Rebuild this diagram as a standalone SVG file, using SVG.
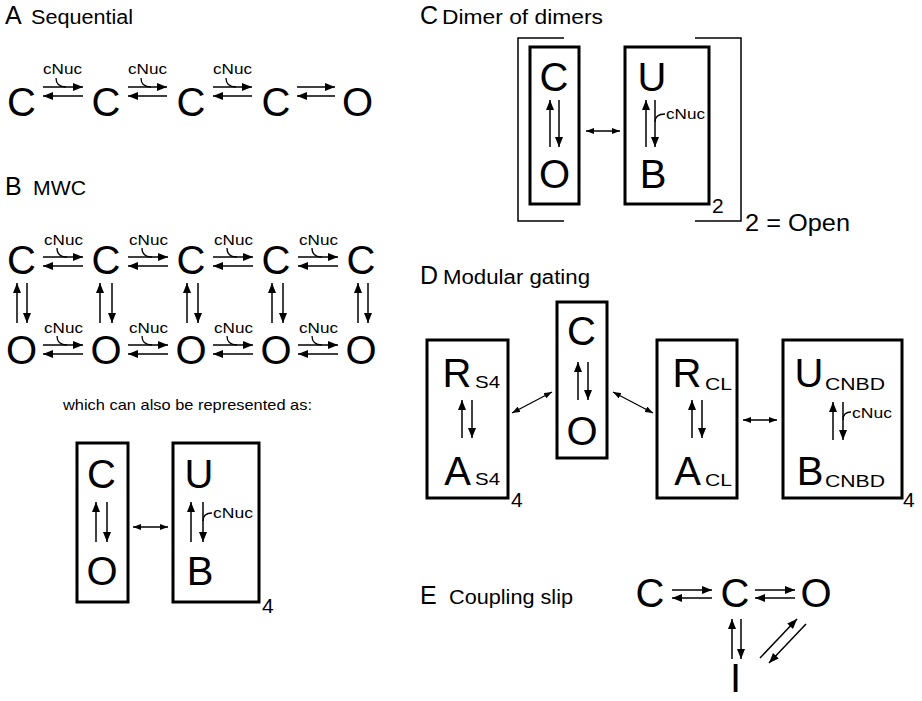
<svg xmlns="http://www.w3.org/2000/svg" width="922" height="701" viewBox="0 0 922 701">
<defs>
<style>
.t{font-family:"Liberation Sans",Arial,Helvetica,sans-serif;fill:#000}
.big{font-size:40px;text-anchor:middle}
.ttl{font-size:25px}
.lbl{font-size:20px}
.nuc{font-size:15px}
.sub{font-size:17px}
.idx{font-size:21px}
.ar{stroke:#000;stroke-width:1.5;fill:none;marker-end:url(#h)}
.da{stroke:#000;stroke-width:1.3;fill:none;marker-start:url(#s);marker-end:url(#s)}
.hk{stroke:#000;stroke-width:1.3;fill:none}
.box{fill:none;stroke:#000;stroke-width:3}
.br{fill:none;stroke:#000;stroke-width:1.5}
</style>
<marker id="h" viewBox="0 0 10 8" refX="10" refY="4" markerWidth="10" markerHeight="8" markerUnits="userSpaceOnUse" orient="auto"><path d="M0,0L10,4L0,8z"/></marker>
<marker id="s" viewBox="0 0 8 6" refX="8" refY="3" markerWidth="8" markerHeight="6" markerUnits="userSpaceOnUse" orient="auto-start-reverse"><path d="M0,0L8,3L0,6z"/></marker>
</defs>
<rect width="922" height="701" fill="#fff"/>

<!-- Section titles -->
<g id="titles" class="t">
<text x="5" y="24" class="ttl">A</text><text x="31" y="24" class="lbl" textLength="102" lengthAdjust="spacingAndGlyphs">Sequential</text>
<text x="5" y="195" class="ttl">B</text><text x="33" y="195" class="lbl" textLength="53" lengthAdjust="spacingAndGlyphs">MWC</text>
<text x="63" y="410" style="font-size:15px" textLength="249" lengthAdjust="spacingAndGlyphs">which can also be represented as:</text>
<text x="420" y="24" class="ttl">C</text><text x="442" y="24" class="lbl" textLength="161" lengthAdjust="spacingAndGlyphs">Dimer of dimers</text>
<text x="420" y="284" class="ttl">D</text><text x="443" y="284" class="lbl" textLength="147" lengthAdjust="spacingAndGlyphs">Modular gating</text>
<text x="420" y="604" class="ttl">E</text><text x="449" y="604" class="lbl" textLength="124" lengthAdjust="spacingAndGlyphs">Coupling slip</text>
</g>

<!-- A: Sequential nodes -->
<g id="A-C1" class="t"><text x="21.5" y="116" class="big">C</text></g>
<g id="A-C2" class="t"><text x="106" y="116" class="big">C</text></g>
<g id="A-C3" class="t"><text x="191" y="116" class="big">C</text></g>
<g id="A-C4" class="t"><text x="276" y="116" class="big">C</text></g>
<g id="A-O" class="t"><text x="357.5" y="116" class="big">O</text></g>

<!-- B: MWC nodes -->
<g id="B-C1" class="t"><text x="21.5" y="274" class="big">C</text></g>
<g id="B-C2" class="t"><text x="106" y="274" class="big">C</text></g>
<g id="B-C3" class="t"><text x="191" y="274" class="big">C</text></g>
<g id="B-C4" class="t"><text x="276" y="274" class="big">C</text></g>
<g id="B-C5" class="t"><text x="361" y="274" class="big">C</text></g>
<g id="B-O1" class="t"><text x="21.5" y="364" class="big">O</text></g>
<g id="B-O2" class="t"><text x="106" y="364" class="big">O</text></g>
<g id="B-O3" class="t"><text x="191" y="364" class="big">O</text></g>
<g id="B-O4" class="t"><text x="276" y="364" class="big">O</text></g>
<g id="B-O5" class="t"><text x="361" y="364" class="big">O</text></g>

<g id="B-boxCO" class="t">
<rect class="box" x="77" y="443" width="51" height="159"/>
<text x="101.5" y="488" class="big">C</text>
<text x="102" y="585" class="big">O</text>
</g>
<g id="B-boxUB" class="t">
<rect class="box" x="173" y="443" width="86" height="159"/>
<text x="199" y="488" class="big">U</text>
<text x="200" y="585" class="big">B</text>
<text x="262" y="613" class="idx">4</text>
</g>

<!-- C: Dimer of dimers -->
<g id="C-bracket" class="t">
<path class="br" d="M564,38H518V221H564"/>
<path class="br" d="M695,38H741V221H695"/>
<text x="745" y="231" style="font-size:23px" textLength="105" lengthAdjust="spacingAndGlyphs">2 = Open</text>
</g>
<g id="C-boxCO" class="t">
<rect class="box" x="530" y="47" width="49" height="157"/>
<text x="554" y="91" class="big">C</text>
<text x="554.5" y="188" class="big">O</text>
</g>
<g id="C-boxUB" class="t">
<rect class="box" x="625" y="47" width="84" height="157"/>
<text x="652" y="91" class="big">U</text>
<text x="653" y="188" class="big">B</text>
<text x="712" y="213" class="idx">2</text>
</g>

<!-- D: Modular gating -->
<g id="D-boxRA-S4" class="t">
<rect class="box" x="427" y="340" width="81" height="158"/>
<text x="457" y="387" class="big">R</text>
<text x="475" y="388" class="sub" textLength="25" lengthAdjust="spacingAndGlyphs">S4</text>
<text x="457.5" y="485" class="big">A</text>
<text x="475" y="485" class="sub" textLength="25" lengthAdjust="spacingAndGlyphs">S4</text>
<text x="511" y="507" class="idx">4</text>
</g>
<g id="D-boxCO" class="t">
<rect class="box" x="557" y="302" width="50" height="156"/>
<text x="581.5" y="345" class="big">C</text>
<text x="582" y="445" class="big">O</text>
</g>
<g id="D-boxRA-CL" class="t">
<rect class="box" x="657" y="340" width="80" height="158"/>
<text x="687" y="387" class="big">R</text>
<text x="705" y="390" class="sub" textLength="27" lengthAdjust="spacingAndGlyphs">CL</text>
<text x="687.5" y="485" class="big">A</text>
<text x="705" y="486" class="sub" textLength="27" lengthAdjust="spacingAndGlyphs">CL</text>
</g>
<g id="D-boxUB-CNBD" class="t">
<rect class="box" x="783" y="340" width="119" height="158"/>
<text x="809" y="387" class="big">U</text>
<text x="825" y="390" class="sub" textLength="60" lengthAdjust="spacingAndGlyphs">CNBD</text>
<text x="810" y="485" class="big">B</text>
<text x="825" y="487" class="sub" textLength="60" lengthAdjust="spacingAndGlyphs">CNBD</text>
<text x="903" y="507" class="idx">4</text>
</g>

<!-- E: Coupling slip -->
<g id="E-C1" class="t"><text x="650" y="607" class="big">C</text></g>
<g id="E-C2" class="t"><text x="735" y="607" class="big">C</text></g>
<g id="E-O" class="t"><text x="816" y="607" class="big">O</text></g>
<g id="E-I" class="t"><text x="735.5" y="692" class="big">I</text></g>

<!-- Connectors -->
<g id="connectors">
<!-- A row -->
<path class="ar" d="M43,87H83"/><path class="ar" d="M83,96H43"/>
<path class="ar" d="M128,87H167"/><path class="ar" d="M167,96H128"/>
<path class="ar" d="M213,87H252"/><path class="ar" d="M252,96H213"/>
<path class="ar" d="M297,87H335"/><path class="ar" d="M335,96H297"/>
<path class="hk" d="M56,78Q56,87 66,87"/>
<path class="hk" d="M141,78Q141,87 151,87"/>
<path class="hk" d="M226,78Q226,87 236,87"/>
<g class="t nuc">
<text x="43" y="74" textLength="39" lengthAdjust="spacingAndGlyphs">cNuc</text>
<text x="128" y="74" textLength="39" lengthAdjust="spacingAndGlyphs">cNuc</text>
<text x="213" y="74" textLength="39" lengthAdjust="spacingAndGlyphs">cNuc</text>
</g>

<!-- B rows -->
<path class="ar" d="M43,257H83"/><path class="ar" d="M83,266H43"/>
<path class="ar" d="M128,257H168"/><path class="ar" d="M168,266H128"/>
<path class="ar" d="M213,257H253"/><path class="ar" d="M253,266H213"/>
<path class="ar" d="M298,257H338"/><path class="ar" d="M338,266H298"/>
<path class="ar" d="M43,345H83"/><path class="ar" d="M83,354H43"/>
<path class="ar" d="M128,345H168"/><path class="ar" d="M168,354H128"/>
<path class="ar" d="M213,345H253"/><path class="ar" d="M253,354H213"/>
<path class="ar" d="M298,345H338"/><path class="ar" d="M338,354H298"/>
<path class="hk" d="M57,248Q57,257 67,257"/>
<path class="hk" d="M142,248Q142,257 152,257"/>
<path class="hk" d="M227,248Q227,257 237,257"/>
<path class="hk" d="M312,248Q312,257 322,257"/>
<path class="hk" d="M57,336Q57,345 67,345"/>
<path class="hk" d="M142,336Q142,345 152,345"/>
<path class="hk" d="M227,336Q227,345 237,345"/>
<path class="hk" d="M312,336Q312,345 322,345"/>
<g class="t nuc">
<text x="44" y="245" textLength="39" lengthAdjust="spacingAndGlyphs">cNuc</text>
<text x="129" y="245" textLength="39" lengthAdjust="spacingAndGlyphs">cNuc</text>
<text x="214" y="245" textLength="39" lengthAdjust="spacingAndGlyphs">cNuc</text>
<text x="299" y="245" textLength="39" lengthAdjust="spacingAndGlyphs">cNuc</text>
<text x="44" y="333" textLength="39" lengthAdjust="spacingAndGlyphs">cNuc</text>
<text x="129" y="333" textLength="39" lengthAdjust="spacingAndGlyphs">cNuc</text>
<text x="214" y="333" textLength="39" lengthAdjust="spacingAndGlyphs">cNuc</text>
<text x="299" y="333" textLength="39" lengthAdjust="spacingAndGlyphs">cNuc</text>
</g>
<path class="ar" d="M17,323V283"/><path class="ar" d="M27,283V323"/>
<path class="ar" d="M100,323V283"/><path class="ar" d="M112,283V323"/>
<path class="ar" d="M187,323V283"/><path class="ar" d="M198,283V323"/>
<path class="ar" d="M272,323V283"/><path class="ar" d="M283,283V323"/>
<path class="ar" d="M358,323V283"/><path class="ar" d="M368,283V323"/>

<!-- B boxes -->
<path class="ar" d="M96,542V502"/><path class="ar" d="M107,502V542"/>
<path class="da" d="M133,527H168"/>
<path class="ar" d="M191,542V502"/><path class="ar" d="M203,502V542"/>
<path class="hk" d="M212,513Q203,513 203,521"/>
<text x="213" y="518" class="t nuc" textLength="40" lengthAdjust="spacingAndGlyphs">cNuc</text>

<!-- C boxes -->
<path class="ar" d="M550,147V100"/><path class="ar" d="M559,100V147"/>
<path class="da" d="M586,131H620"/>
<path class="ar" d="M646,147V100"/><path class="ar" d="M655,100V147"/>
<path class="hk" d="M665,114Q655,114 655,122"/>
<text x="666" y="119" class="t nuc" textLength="39" lengthAdjust="spacingAndGlyphs">cNuc</text>

<!-- D boxes -->
<path class="ar" d="M462,438V400"/><path class="ar" d="M472,400V438"/>
<path class="ar" d="M578,400V362"/><path class="ar" d="M588,362V400"/>
<path class="ar" d="M692,438V400"/><path class="ar" d="M702,400V438"/>
<path class="ar" d="M833,440V402"/><path class="ar" d="M843,402V440"/>
<path class="hk" d="M851,412Q843,412 843,420"/>
<text x="852" y="418" class="t nuc" textLength="40" lengthAdjust="spacingAndGlyphs">cNuc</text>
<path class="da" d="M512,413L552,392"/>
<path class="da" d="M613,392L653,413"/>
<path class="da" d="M743,420H777"/>

<!-- E -->
<path class="ar" d="M672,590H712"/><path class="ar" d="M712,598H672"/>
<path class="ar" d="M755,590H795"/><path class="ar" d="M795,598H755"/>
<path class="ar" d="M732,659V619"/><path class="ar" d="M741,619V659"/>
<path class="ar" d="M760,658L797,619"/><path class="ar" d="M806,624L769,663"/>
</g>
</svg>
